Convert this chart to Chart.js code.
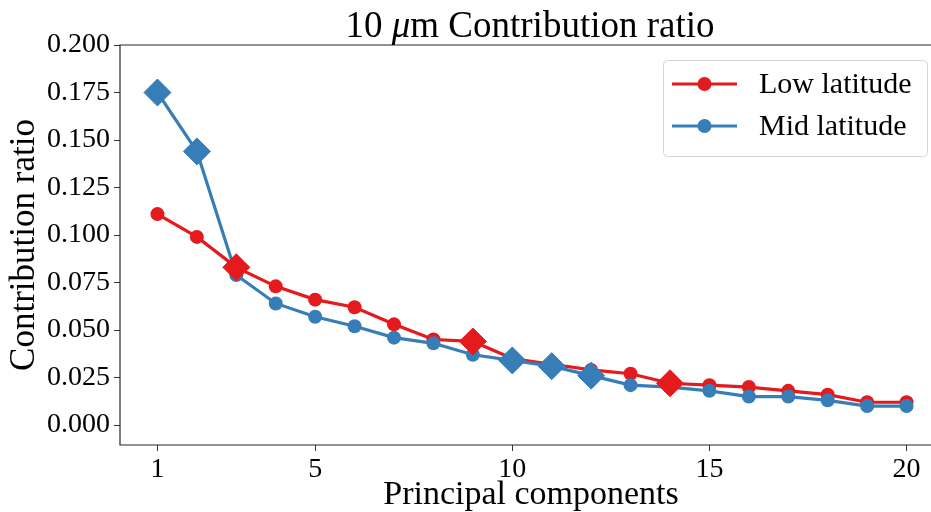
<!DOCTYPE html>
<html>
<head>
<meta charset="utf-8">
<script src="https://cdn.jsdelivr.net/npm/chart.js@4.4.1/dist/chart.umd.min.js"></script>
<style>
  html, body { margin: 0; padding: 0; background: #fff; overflow: hidden; }
  #wrap { width: 931px; height: 512px; }
</style>
</head>
<body>
<div id="wrap"><canvas id="mycanvas" width="931" height="512"></canvas></div>
<script>
// principal component index
var components = [1,2,3,4,5,6,7,8,9,10,11,12,13,14,15,16,17,18,19,20];

var low_latitude = [0.111, 0.099, 0.083, 0.073, 0.066, 0.062, 0.053, 0.045, 0.044, 0.035,
                    0.032, 0.029, 0.027, 0.022, 0.021, 0.020, 0.018, 0.016, 0.012, 0.012];
var mid_latitude = [0.175, 0.144, 0.079, 0.064, 0.057, 0.052, 0.046, 0.043, 0.037, 0.034,
                    0.031, 0.026, 0.021, 0.020, 0.018, 0.015, 0.015, 0.013, 0.010, 0.010];

// components drawn with a diamond marker
var low_highlight = [3, 9, 14];
var mid_highlight = [1, 2, 10, 11, 12];

var x_ticks = [1, 5, 10, 15, 20];
var y_ticks = [0, 0.025, 0.05, 0.075, 0.1, 0.125, 0.15, 0.175, 0.2];

var red = "#e41a1c";
var blue = "#377eb8";
var serif = "'Liberation Serif', 'Times New Roman', serif";

function points(vals) {
	var out = [];
	for (var i in vals) out.push({x: components[i], y: vals[i]});
	return out;
}
function picked(vals, which) {
	var out = [];
	for (var i in which) out.push({x: which[i], y: vals[components.indexOf(which[i])]});
	return out;
}

var textPlugin = {
	id: "texts",
	afterDraw: function(chart) {
		var ctx = chart.ctx;
		var a = chart.chartArea;
		ctx.save();
		// frame (right spine falls outside the picture)
		ctx.strokeStyle = "#262626";
		ctx.lineWidth = 1.2;
		ctx.beginPath();
		ctx.moveTo(chart.width, a.top);
		ctx.lineTo(a.left, a.top);
		ctx.lineTo(a.left, a.bottom);
		ctx.lineTo(chart.width, a.bottom);
		ctx.stroke();

		ctx.fillStyle = "#000";
		// title with italic mu
		var cx = 530;
		var parts = [["10 ", "37px " + serif], ["\u03bc", "italic 37px " + serif], ["m Contribution ratio", "37px " + serif]];
		var total = 0;
		for (var i in parts) { ctx.font = parts[i][1]; total += ctx.measureText(parts[i][0]).width; }
		var x = cx - total / 2;
		ctx.textBaseline = "alphabetic";
		ctx.textAlign = "left";
		for (var i in parts) {
			ctx.font = parts[i][1];
			ctx.fillText(parts[i][0], x, 37);
			x += ctx.measureText(parts[i][0]).width;
		}

		// axis titles
		ctx.font = "34px " + serif;
		ctx.textAlign = "center";
		ctx.fillText("Principal components", 531, 504);
		ctx.save();
		ctx.translate(34, 245);
		ctx.rotate(-Math.PI / 2);
		ctx.textBaseline = "alphabetic";
		ctx.font = "35px " + serif;
		ctx.fillText("Contribution ratio", 0, 0);
		ctx.restore();

		// legend
		ctx.beginPath();
		ctx.roundRect(663.5, 60.5, 264, 96, 4);
		ctx.fillStyle = "rgba(255,255,255,0.8)";
		ctx.fill();
		ctx.strokeStyle = "#d6d6d6";
		ctx.lineWidth = 1;
		ctx.stroke();
		var rows = [[chart.data.datasets[3], 84], [chart.data.datasets[2], 126]];
		for (var r in rows) {
			var ds = rows[r][0], y = rows[r][1];
			ctx.strokeStyle = ds.borderColor;
			ctx.lineWidth = 3;
			ctx.beginPath(); ctx.moveTo(672, y); ctx.lineTo(737, y); ctx.stroke();
			ctx.fillStyle = ds.borderColor;
			ctx.beginPath(); ctx.arc(704.5, y, 7, 0, Math.PI * 2); ctx.fill();
			ctx.fillStyle = "#000";
			ctx.font = "30px " + serif;
			ctx.textAlign = "left";
			ctx.textBaseline = "middle";
			ctx.fillText(ds.label, 759, y + 1);
		}
		ctx.restore();
	}
};

var chartdata = {
	datasets: [
		{
			label: "Low latitude highlight",
			data: picked(low_latitude, low_highlight),
			showLine: false,
			pointStyle: "rectRot",
			pointRadius: 13.5,
			backgroundColor: red,
			borderColor: red,
			borderWidth: 1
		},
		{
			label: "Mid latitude highlight",
			data: picked(mid_latitude, mid_highlight),
			showLine: false,
			pointStyle: "rectRot",
			pointRadius: 13.5,
			backgroundColor: blue,
			borderColor: blue,
			borderWidth: 1
		},
		{
			label: "Mid latitude",
			data: points(mid_latitude),
			showLine: true,
			borderColor: blue,
			backgroundColor: blue,
			borderWidth: 3.2,
			pointRadius: 7,
			pointBorderWidth: 0,
			lineTension: 0
		},
		{
			label: "Low latitude",
			data: points(low_latitude),
			showLine: true,
			borderColor: red,
			backgroundColor: red,
			borderWidth: 3.2,
			pointRadius: 7,
			pointBorderWidth: 0,
			lineTension: 0
		}
	]
};

var ctx = document.getElementById("mycanvas");

var LineGraph = new Chart(ctx, {
	type: "scatter",
	data: chartdata,
	plugins: [textPlugin],
	options: {
		responsive: false,
		animation: false,
		layout: { autoPadding: false, padding: { left: 0, right: 0, top: 45, bottom: 0 } },
		plugins: { legend: { display: false }, tooltip: { enabled: false } },
		scales: {
			x: {
				type: "linear",
				min: 0.05,
				max: 20.62,
				afterBuildTicks: function(scale) {
					scale.ticks = x_ticks.map(function(v) { return {value: v}; });
				},
				afterFit: function(scale) {
					scale.height = 67;
					scale.paddingLeft = 0;
					scale.paddingRight = 0;
				},
				border: { display: false },
				grid: { drawOnChartArea: false, drawTicks: true, tickLength: 6, color: "#333" },
				ticks: {
					color: "#000",
					padding: 2,
					maxRotation: 0,
					font: { family: serif, size: 28 }
				}
			},
			y: {
				type: "linear",
				min: -0.0105,
				max: 0.2,
				afterBuildTicks: function(scale) {
					scale.ticks = y_ticks.map(function(v) { return {value: v}; });
				},
				afterFit: function(scale) {
					scale.width = 120;
					scale.paddingTop = 0;
					scale.paddingBottom = 0;
				},
				border: { display: false },
				grid: { drawOnChartArea: false, drawTicks: true, tickLength: 6, color: "#333" },
				ticks: {
					color: "#000",
					padding: 4,
					font: { family: serif, size: 28 },
					callback: function(v) { return v.toFixed(3); }
				}
			}
		}
	}
});
</script>
</body>
</html>
